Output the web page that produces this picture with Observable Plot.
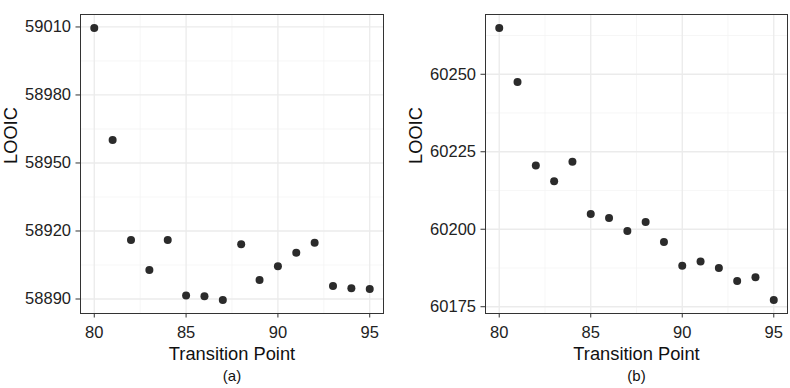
<!DOCTYPE html>
<html>
<head>
<meta charset="utf-8">
<script src="https://cdn.jsdelivr.net/npm/d3@7"></script>
<script src="https://cdn.jsdelivr.net/npm/@observablehq/plot@0.6"></script>
<style>
  html, body { margin: 0; padding: 0; background: #fff; }
  #wrap { position: relative; width: 790px; height: 388px; overflow: hidden; }
  #wrap > .panel { position: absolute; top: 0; }
</style>
</head>
<body>
<div id="wrap"></div>
<script>
// Transition points on the x axis (shared by both panels)
const transitionPoints = [80, 81, 82, 83, 84, 85, 86, 87, 88, 89, 90, 91, 92, 93, 94, 95];

// LOOIC values, panel (a)
const looicA = [59009.5, 58960.1, 58916.0, 58902.8, 58916.0, 58891.6, 58891.2, 58889.6,
                58914.1, 58898.4, 58904.5, 58910.4, 58914.8, 58895.7, 58894.7, 58894.4];

// LOOIC values, panel (b)
const looicB = [60264.9, 60247.5, 60220.6, 60215.5, 60221.8, 60204.9, 60203.6, 60199.4,
                60202.3, 60195.9, 60188.2, 60189.6, 60187.5, 60183.3, 60184.5, 60177.2];

// Tick positions
const xTicks = [80, 85, 90, 95];
const xMinor = [82.5, 87.5, 92.5];
const yTicksA = [58890, 58920, 58950, 58980, 59010];
const yMinorA = [58905, 58935, 58965, 58995];
const yTicksB = [60175, 60200, 60225, 60250];
const yMinorB = [60187.5, 60212.5, 60237.5, 60262.5];

const xLabel = "Transition Point";
const yLabel = "LOOIC";
const captions = ["(a)", "(b)"];

const FONT = "'Liberation Sans', Arial, Helvetica, sans-serif";

// ggplot-style 5% expansion around the data range
function expand(values, frac = 0.05) {
  const [lo, hi] = d3.extent(values);
  const pad = (hi - lo) * frac;
  return [lo - pad, hi + pad];
}

function panel({values, yTicks, yMinor, caption, marginLeft, marginRight}) {
  const data = transitionPoints.map((t, i) => ({t, v: values[i]}));
  return Plot.plot({
    width: 395,
    height: 388,
    marginLeft,
    marginRight,
    marginTop: 14,
    marginBottom: 75,
    style: {fontFamily: FONT, color: "#222", background: "#fff", overflow: "visible"},
    x: {domain: expand(transitionPoints)},
    y: {domain: expand(values)},
    marks: [
      Plot.gridX(xMinor, {stroke: "#f2f2f2", strokeOpacity: 1, strokeWidth: 0.7}),
      Plot.gridY(yMinor, {stroke: "#f2f2f2", strokeOpacity: 1, strokeWidth: 0.7}),
      Plot.gridX(xTicks, {stroke: "#ebebeb", strokeOpacity: 1, strokeWidth: 1.3}),
      Plot.gridY(yTicks, {stroke: "#ebebeb", strokeOpacity: 1, strokeWidth: 1.3}),
      Plot.axisX({ticks: xTicks, tickFormat: d3.format("d"), tickSize: 4.5, tickPadding: 8,
                  fontSize: 16.5, stroke: "#333", label: null}),
      Plot.axisY({ticks: yTicks, tickFormat: d3.format("d"), tickSize: 4.5, tickPadding: 5,
                  fontSize: 16.5, stroke: "#333", label: null}),
      Plot.frame({stroke: "#333", strokeWidth: 1}),
      Plot.dot(data, {x: "t", y: "v", r: 4, fill: "#2b2b2b"}),
      Plot.text([xLabel], {frameAnchor: "bottom", lineAnchor: "middle", dy: 40.5,
                           fontSize: 18.3, fill: "#111"}),
      Plot.text([caption], {frameAnchor: "bottom", lineAnchor: "middle", dy: 63,
                            fontSize: 15, fill: "#111"}),
      Plot.text([yLabel], {frameAnchor: "left", lineAnchor: "middle", rotate: -90, dx: -69.5,
                           fontSize: 18.3, fill: "#111"})
    ]
  });
}

const wrap = document.getElementById("wrap");
const specs = [
  {values: looicA, yTicks: yTicksA, yMinor: yMinorA, caption: captions[0], marginLeft: 80, marginRight: 12, left: 0},
  {values: looicB, yTicks: yTicksB, yMinor: yMinorB, caption: captions[1], marginLeft: 90, marginRight: 3, left: 395}
];
for (const s of specs) {
  const svg = panel(s);
  svg.classList.add("panel");
  svg.style.left = s.left + "px";
  wrap.appendChild(svg);
}
</script>
</body>
</html>
